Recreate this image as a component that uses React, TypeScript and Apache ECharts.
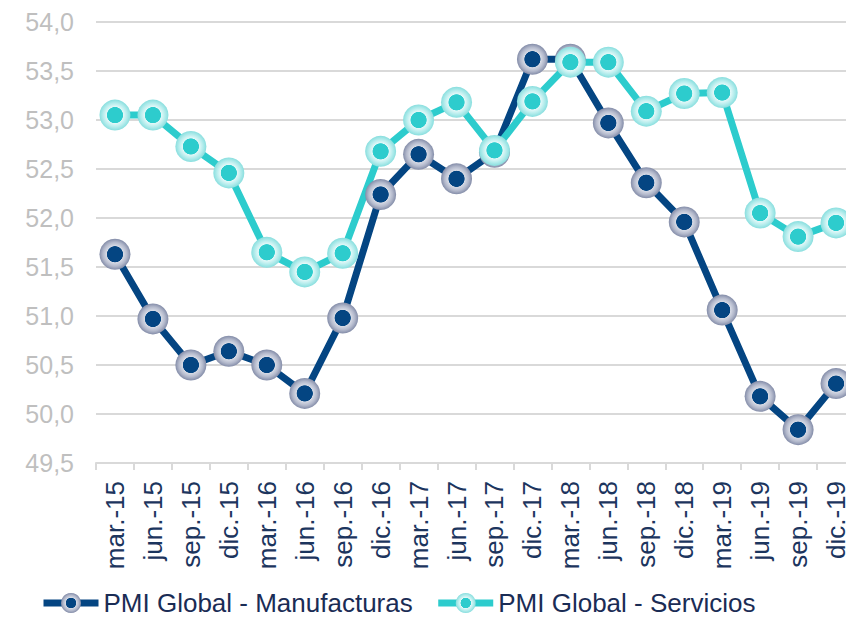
import React, { useEffect, useRef } from "react";
import * as echarts from "echarts";

const categories = [
  "mar.-15", "jun.-15", "sep.-15", "dic.-15",
  "mar.-16", "jun.-16", "sep.-16", "dic.-16",
  "mar.-17", "jun.-17", "sep.-17", "dic.-17",
  "mar.-18", "jun.-18", "sep.-18", "dic.-18",
  "mar.-19", "jun.-19", "sep.-19", "dic.-19",
];

const manufacturas = [
  51.63, 50.97, 50.5, 50.64,
  50.5, 50.21, 50.98, 52.24,
  52.65, 52.4, 52.67, 53.62,
  53.62, 52.97, 52.36, 51.96,
  51.06, 50.18, 49.84, 50.31,
];

const servicios = [
  53.05, 53.05, 52.73, 52.46,
  51.65, 51.45, 51.64, 52.68,
  53.0, 53.18, 52.69, 53.19,
  53.59, 53.59, 53.09, 53.27,
  53.28, 52.05, 51.81, 51.95,
];

const seriesNames = ["PMI Global - Manufacturas", "PMI Global - Servicios"];

const NAVY = "#044582";
const AQUA = "#2dcccd";

function markerGradient(inner: string, ring: string[]) {
  return new echarts.graphic.RadialGradient(0.5, 0.5, 0.5, [
    { offset: 0, color: inner },
    { offset: 0.5, color: inner },
    { offset: 0.54, color: ring[0] },
    { offset: 0.78, color: ring[1] },
    { offset: 1, color: ring[2] },
  ]);
}

export default function App() {
  const ref = useRef<HTMLDivElement>(null);

  useEffect(() => {
    if (!ref.current) return;
    const chart = echarts.init(ref.current, undefined, { renderer: "svg" });
    const font = "Liberation Sans, Arial, sans-serif";
    chart.setOption({
      animation: false,
      backgroundColor: "#ffffff",
      grid: {
        left: 96,
        top: 22,
        width: 759,
        height: 441,
        containLabel: false,
        outerBoundsMode: "none",
      },
      legend: {
        left: 40,
        top: 590,
        padding: 0,
        itemWidth: 55,
        itemHeight: 25,
        itemGap: 22,
        lineStyle: { width: 7 },
        textStyle: {
          fontFamily: font,
          fontSize: 26,
          lineHeight: 24,
          color: "#1a2c55",
          padding: [0, 0, 0, 0],
        },
        data: seriesNames,
      },
      xAxis: {
        type: "category",
        data: categories,
        boundaryGap: true,
        axisLine: { show: true, lineStyle: { color: "#d9d9d9", width: 2 } },
        axisTick: { show: true, length: 7, lineStyle: { color: "#d9d9d9", width: 2 } },
        axisLabel: {
          rotate: 90,
          interval: 0,
          margin: 18,
          fontFamily: font,
          fontSize: 26,
          color: "#1c355e",
        },
      },
      yAxis: {
        type: "value",
        min: 49.5,
        max: 54,
        interval: 0.5,
        axisLine: { show: false },
        axisTick: { show: false },
        splitLine: { show: true, lineStyle: { color: "#d9d9d9", width: 2 } },
        axisLabel: {
          margin: 22,
          fontFamily: font,
          fontSize: 25,
          color: "#bfbfbf",
          formatter: (v: number) => v.toFixed(1).replace(".", ","),
        },
      },
      series: [
        {
          name: seriesNames[0],
          type: "line",
          data: manufacturas,
          symbol: "circle",
          symbolSize: 31,
          lineStyle: { color: NAVY, width: 7 },
          itemStyle: {
            color: markerGradient(NAVY, ["#d6dae5", "#b2b8cb", "#838ca8"]),
          },
        },
        {
          name: seriesNames[1],
          type: "line",
          data: servicios,
          symbol: "circle",
          symbolSize: 31,
          lineStyle: { color: AQUA, width: 7 },
          itemStyle: {
            color: markerGradient(AQUA, ["#e3f8f8", "#b3ecec", "#88dede"]),
          },
        },
      ],
    });
    return () => chart.dispose();
  }, []);

  return (
    <div
      ref={ref}
      style={{ position: "fixed", left: 0, top: 0, width: 846, height: 619 }}
    />
  );
}
